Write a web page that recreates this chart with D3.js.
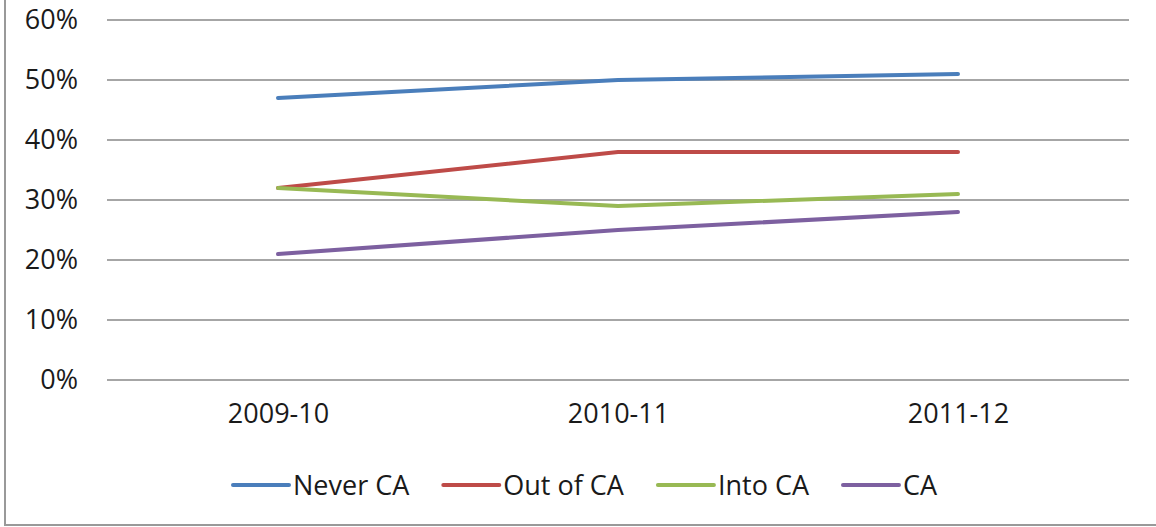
<html lang="en">
<head>
<meta charset="UTF-8">
<title>CA status by year</title>
<script src="https://d3js.org/d3.v7.min.js"></script>
<style>
  body { margin: 0; background: #fff; }
  svg text { font-family: "Open Sans", sans-serif; fill: #1a1a1a; }
  .grid line { stroke: #a6a6a6; stroke-width: 2; }
</style>
</head>
<body>
<div id="chart"></div>
<script>
// chart data
const years = ["2009-10", "2010-11", "2011-12"];
const seriesNames = ["Never CA", "Out of CA", "Into CA", "CA"];
const neverCA = [0.47, 0.50, 0.51];
const outOfCA = [0.32, 0.38, 0.38];
const intoCA = [0.32, 0.29, 0.31];
const ca = [0.21, 0.25, 0.28];
const yTicks = [0, 0.1, 0.2, 0.3, 0.4, 0.5, 0.6];
const colors = ["#4a7ebb", "#be4b48", "#98b954", "#7d60a0"];

const series = [neverCA, outOfCA, intoCA, ca].map((vals, i) => ({
  name: seriesNames[i],
  color: colors[i],
  values: vals.map((v, j) => ({ year: years[j], value: v }))
}));

const W = 1156, H = 527;
const svg = d3.select("#chart").append("svg")
  .attr("width", W)
  .attr("height", H);

// outer chart border (only left and bottom are visible)
svg.append("rect")
  .attr("x", 5).attr("y", -10)
  .attr("width", W + 20).attr("height", 535)
  .attr("fill", "none")
  .attr("stroke", "#999")
  .attr("stroke-width", 2);

const x = d3.scalePoint()
  .domain(years)
  .range([108, 1128])
  .padding(0.5);

const y = d3.scaleLinear()
  .domain([0, 0.6])
  .range([380, 20]);

// gridlines
svg.append("g")
  .attr("class", "grid")
  .selectAll("line")
  .data(yTicks)
  .join("line")
  .attr("x1", 107).attr("x2", 1129)
  .attr("y1", d => y(d)).attr("y2", d => y(d));

// y axis labels
const yAxis = d3.axisLeft(y)
  .tickValues(yTicks)
  .tickFormat(d3.format(".0%"))
  .tickSize(0)
  .tickPadding(0);

svg.append("g")
  .attr("transform", "translate(78,0)")
  .call(yAxis)
  .call(g => g.select(".domain").remove())
  .selectAll("text")
  .attr("font-family", "Open Sans, sans-serif")
  .style("font-size", "27px")
  .attr("fill", "#1a1a1a");

// x axis labels
const xAxis = d3.axisBottom(x).tickSize(0).tickPadding(0);
svg.append("g")
  .attr("transform", "translate(0,404)")
  .call(xAxis)
  .call(g => g.select(".domain").remove())
  .selectAll("text")
  .attr("font-family", "Open Sans, sans-serif")
  .style("font-size", "27px")
  .attr("fill", "#1a1a1a");

// lines
const line = d3.line()
  .x(d => x(d.year))
  .y(d => y(d.value));

svg.append("g")
  .selectAll("path")
  .data(series)
  .join("path")
  .attr("d", d => line(d.values))
  .attr("fill", "none")
  .attr("stroke", d => d.color)
  .attr("stroke-width", 4)
  .attr("stroke-linecap", "round")
  .attr("stroke-linejoin", "round");

// legend
const legend = svg.append("g").attr("transform", "translate(233,485)");
let lx = 0;
series.forEach(s => {
  const g = legend.append("g").attr("transform", `translate(${lx},0)`);
  g.append("line")
    .attr("x1", 0).attr("x2", 56)
    .attr("y1", 0).attr("y2", 0)
    .attr("stroke", s.color)
    .attr("stroke-width", 4)
    .attr("stroke-linecap", "round");
  const t = g.append("text")
    .attr("x", 60)
    .attr("y", 10)
    .style("font-size", "27px")
    .text(s.name);
  lx += 60 + t.node().getComputedTextLength() + 34;
});
</script>
</body>
</html>
